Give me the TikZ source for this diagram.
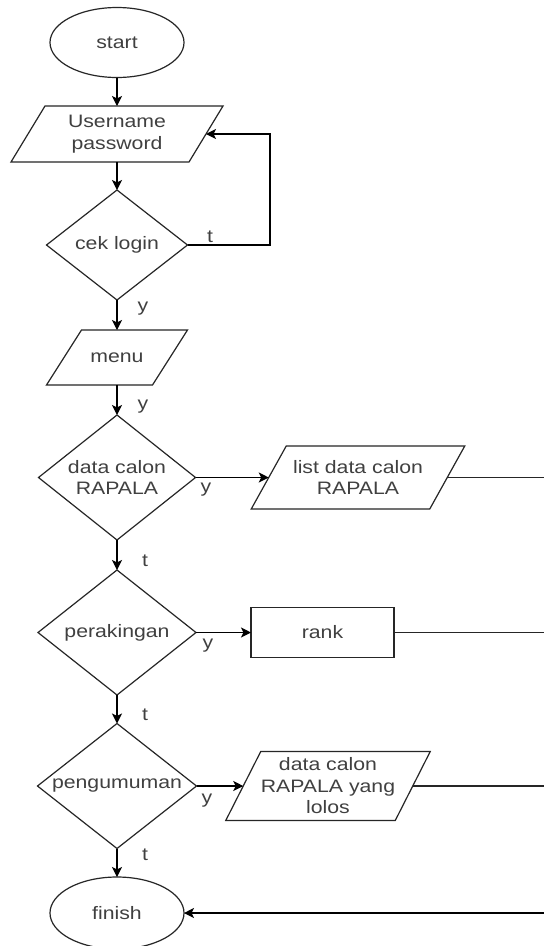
\documentclass[tikz,border=0pt]{standalone}
\usepackage{fontspec}
\setmainfont{Liberation Sans}[FakeStretch=1.18]
\usetikzlibrary{shapes.geometric,arrows.meta}
\newcommand\paral[2]{\draw[ln, line join=miter] ([xshift=#2/2]#1.north west) -- ([xshift=#2/2]#1.north east) -- ([xshift=-#2/2]#1.south east) -- ([xshift=-#2/2]#1.south west) -- cycle;}
\begin{document}
\begin{tikzpicture}[x=1pt,y=-1pt,
  base/.style={draw=black!85, line width=1.2pt, text=black!75, outer sep=0pt, inner sep=0pt, align=center,
    font=\fontsize{18}{21.5}\selectfont},
  term/.style={base, ellipse, minimum width=134pt, minimum height=70pt},
  decide/.style={base, diamond, aspect=1.25},
  io/.style={base, draw=none, rectangle},
  proc/.style={base, rectangle},
  arr/.style={draw=black, line width=1.2pt, -{Stealth[length=10pt,width=10pt,inset=2.5pt]}},
  ln/.style={draw=black!85, line width=1.2pt},
  lbl/.style={text=black!75, font=\fontsize{18}{20}\selectfont, inner sep=0pt}]
\useasboundingbox (0,0) rectangle (544,946);
\fill[white] (0,0) rectangle (544,946);
\coordinate (rx) at (544,0);

\node[term] (start) at (117,42.5) {start};
\node[io, minimum width=178pt, minimum height=56pt] (user) at (117,134) {Username\\password};
\node[decide, minimum width=141pt, minimum height=110pt] (login) at (117,245) {cek login};
\node[io, minimum width=106pt, minimum height=55pt] (menu) at (117,357.5) {menu};
\node[decide, minimum width=157pt, minimum height=125pt] (data) at (117,477.5) {data calon\\RAPALA};
\node[io, minimum width=178.5pt, minimum height=63pt] (list) at (358,477.5) {list data calon\\RAPALA};
\node[decide, minimum width=158pt, minimum height=125pt] (perak) at (117,632.5) {perakingan};
\node[proc, minimum width=143pt, minimum height=50pt] (rank) at (322.5,632.5) {rank};
\node[decide, minimum width=159pt, minimum height=125pt] (umum) at (117,786) {pengumuman};
\node[io, minimum width=169.5pt, minimum height=69pt] (lolos) at (328,786) {data calon\\RAPALA yang\\lolos};
\node[term, minimum height=72pt] (finish) at (117,913) {finish};

\paral{user}{34pt}
\paral{menu}{35pt}
\paral{list}{35pt}
\paral{lolos}{35pt}

\draw[arr] (start) -- (user);
\draw[arr] (user) -- (login);
\draw[arr] (login.east) -- (login.east -| 270,0) |- (user.east);
\draw[arr] (login) -- (menu);
\draw[arr] (menu) -- (data);
\draw[arr] (data) -- (list);
\draw[ln] (list.east) -- (list.east -| rx);
\draw[arr] (data) -- (perak);
\draw[arr] (perak) -- (rank);
\draw[ln] (rank.east) -- (rank.east -| rx);
\draw[arr] (perak) -- (umum);
\draw[arr] (umum) -- (lolos);
\draw[ln] (lolos.east) -- (lolos.east -| rx);
\draw[arr] (umum) -- (finish);
\draw[arr] (finish.east -| rx) -- (finish.east);

\node[lbl] (t1) at (210,237) {t};
\node[lbl] (y1) at (143,309) {y};
\node[lbl] (y2) at (143,407) {y};
\node[lbl] (y3) at (206,490) {y};
\node[lbl] (t2) at (145,561) {t};
\node[lbl] (y4) at (208,646) {y};
\node[lbl] (t3) at (145,715) {t};
\node[lbl] (y5) at (207,801) {y};
\node[lbl] (t4) at (145,855) {t};
\end{tikzpicture}
\end{document}
